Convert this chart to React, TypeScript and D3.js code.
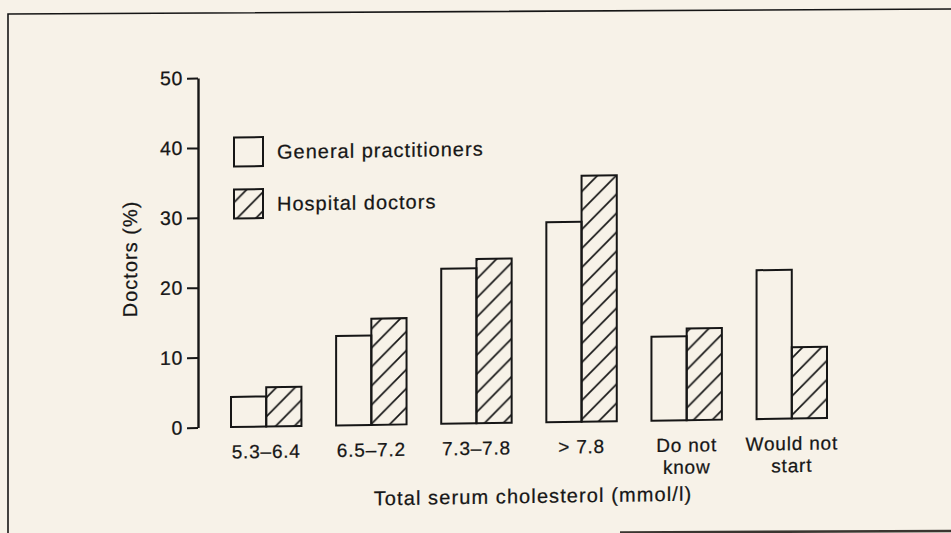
import React, { useEffect, useRef } from 'react';
import * as d3 from 'd3';

// categories along the x axis (two-line labels split by \n)
const categories = ['5.3–6.4', '6.5–7.2', '7.3–7.8', '> 7.8', 'Do not\nknow', 'Would not\nstart'];
const seriesNames = ['General practitioners', 'Hospital doctors'];
const gpValues = [4.3, 12.8, 22.2, 28.6, 12.0, 21.3];
const hospitalValues = [5.6, 15.2, 23.5, 35.2, 13.1, 10.2];
const yTicks = [0, 10, 20, 30, 40, 50];

const W = 951;
const H = 533;
const PAPER = '#f7f2e8';
const INK = '#161616';
const FONT = '"Liberation Sans", Arial, Helvetica, sans-serif';

const App: React.FC = () => {
  const ref = useRef<SVGSVGElement | null>(null);

  useEffect(() => {
    document.body.style.margin = '0';
    if (!ref.current) return;
    const svg = d3.select(ref.current);
    svg.selectAll('*').remove();

    const x0 = 198; // y axis position
    const yBase = 427.5;

    const defs = svg.append('defs');
    const pat = defs.append('pattern')
      .attr('id', 'hatch')
      .attr('patternUnits', 'userSpaceOnUse')
      .attr('width', 19)
      .attr('height', 19);
    pat.append('path')
      .attr('d', 'M-2,2 L2,-2 M0,19 L19,0 M17,21 L21,17')
      .attr('stroke', INK)
      .attr('stroke-width', 1.7);

    svg.append('rect').attr('width', W).attr('height', H).attr('fill', PAPER);

    // page frame from the scan
    svg.append('path')
      .attr('d', `M8,${H + 10} L8,14 L${W + 5},9`)
      .attr('fill', 'none')
      .attr('stroke', INK)
      .attr('stroke-width', 1.6);
    svg.append('line')
      .attr('x1', 620).attr('x2', W)
      .attr('y1', 532.5).attr('y2', 531)
      .attr('stroke', '#3a3530')
      .attr('stroke-width', 2.5);

    // the scanned page is slightly tilted
    const g = svg.append('g')
      .attr('transform', `translate(${x0},${yBase}) skewY(-0.86) translate(${-x0},${-yBase})`)
      .style('font-family', FONT)
      .style('fill', INK);

    const inkText = (sel: d3.Selection<any, any, any, any>, size: number, spacing: number) =>
      sel.style('font-size', `${size}px`)
        .style('letter-spacing', `${spacing}px`)
        .style('stroke', INK)
        .style('stroke-width', '0.25px');

    const x = d3.scaleBand<string>()
      .domain(categories)
      .range([x0, 860])
      .paddingInner(0.33)
      .paddingOuter(0.314);

    const xSub = d3.scaleBand<string>()
      .domain(seriesNames)
      .range([0, x.bandwidth()]);

    const y = d3.scaleLinear().domain([0, 50]).range([yBase, 78]);

    // y axis
    const yAxis = g.append('g')
      .attr('transform', `translate(${x0},0)`)
      .call(d3.axisLeft(y).tickValues(yTicks).tickSize(11).tickSizeOuter(0).tickPadding(4));
    yAxis.select('.domain').attr('stroke', INK).attr('stroke-width', 2.4);
    yAxis.selectAll('.tick line').attr('stroke', INK).attr('stroke-width', 2);
    inkText(yAxis.selectAll('.tick text').attr('fill', INK).style('font-family', FONT), 19.5, 0.6);

    // y title
    inkText(g.append('text')
      .attr('transform', `translate(137,258) rotate(-90)`)
      .attr('text-anchor', 'middle')
      .text('Doctors (%)'), 20, 1);

    // bars
    const series = [
      { name: seriesNames[0], values: gpValues, fill: PAPER },
      { name: seriesNames[1], values: hospitalValues, fill: 'url(#hatch)' },
    ];
    series.forEach(s => {
      g.selectAll(null)
        .data(categories)
        .enter()
        .append('rect')
        .attr('x', c => (x(c) as number) + (xSub(s.name) as number))
        .attr('width', xSub.bandwidth())
        .attr('y', (_, i) => y(s.values[i]))
        .attr('height', (_, i) => yBase - y(s.values[i]))
        .attr('fill', s.fill)
        .attr('stroke', INK)
        .attr('stroke-width', 2);
    });

    // category labels
    const labels = g.selectAll(null)
      .data(categories)
      .enter()
      .append('text')
      .attr('text-anchor', 'middle')
      .attr('transform', c => `translate(${(x(c) as number) + x.bandwidth() / 2},459)`);
    inkText(labels, 19, 0.8);
    labels.selectAll('tspan')
      .data(c => c.split('\n'))
      .enter()
      .append('tspan')
      .attr('x', 0)
      .attr('dy', (_, i) => (i === 0 ? 0 : 22))
      .text(t => t);

    // x title
    inkText(g.append('text')
      .attr('x', 533)
      .attr('y', 508)
      .attr('text-anchor', 'middle')
      .text('Total serum cholesterol (mmol/l)'), 20, 1.1);

    // legend
    const legend = g.append('g');
    series.forEach((s, i) => {
      const ly = 138 + i * 52;
      legend.append('rect')
        .attr('x', 234)
        .attr('y', ly)
        .attr('width', 29)
        .attr('height', 29)
        .attr('fill', s.fill)
        .attr('stroke', INK)
        .attr('stroke-width', 2);
      inkText(legend.append('text')
        .attr('x', 277)
        .attr('y', ly + 22)
        .text(s.name), 20, 1);
    });
  }, []);

  return <svg ref={ref} width={W} height={H} style={{ display: 'block' }} />;
};

export default App;
